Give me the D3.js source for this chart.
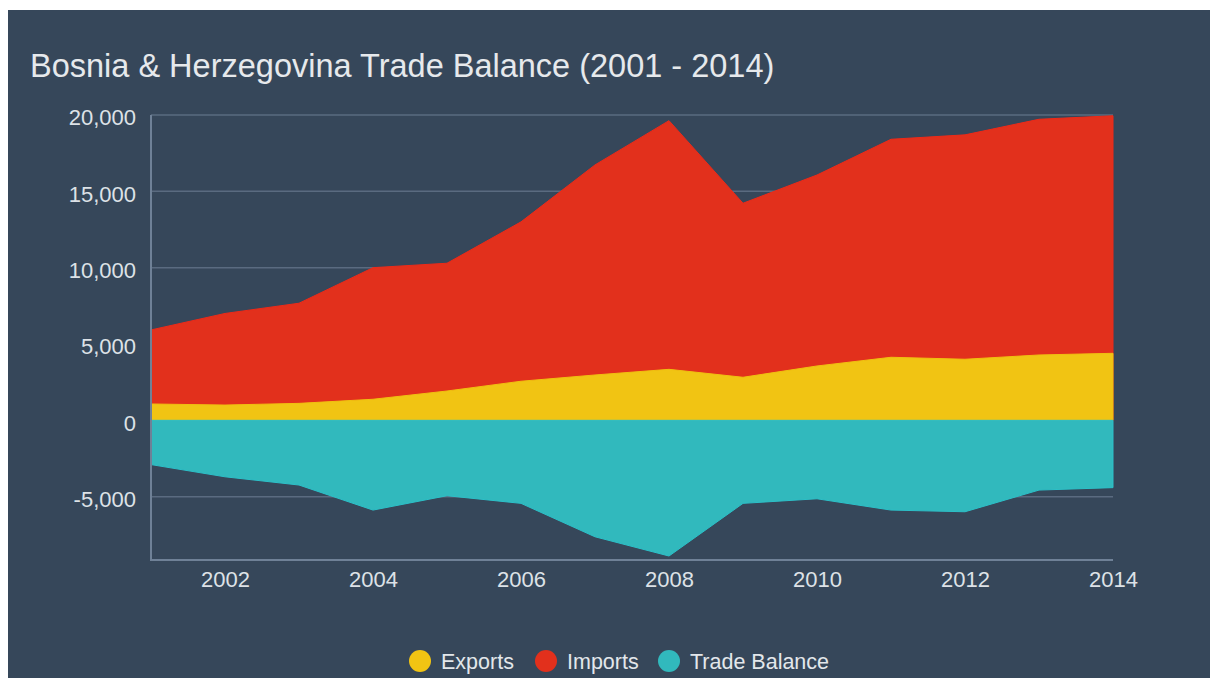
<!DOCTYPE html>
<html>
<head>
<meta charset="utf-8">
<script src="https://cdn.jsdelivr.net/npm/d3@7"></script>
<style>
  html, body { margin: 0; padding: 0; background: #ffffff; }
  svg { display: block; }
  text { font-family: "Liberation Sans", Arial, sans-serif; }
</style>
</head>
<body>
<svg id="chart" width="1210" height="678"></svg>
<script>
const years = [2001, 2002, 2003, 2004, 2005, 2006, 2007, 2008, 2009, 2010, 2011, 2012, 2013, 2014];
const imports = [5920, 7000, 7670, 10000, 10290, 13000, 16730, 19630, 14220, 16070, 18410, 18700, 19720, 19950];
const exports = [1070, 1000, 1110, 1380, 1920, 2560, 2970, 3340, 2820, 3560, 4130, 4000, 4280, 4390];
const tradeBalance = [-2900, -3700, -4240, -5880, -4940, -5440, -7630, -8890, -5440, -5140, -5880, -5990, -4570, -4410];
const yTicks = [-5000, 0, 5000, 10000, 15000, 20000];
const xTicks = [2002, 2004, 2006, 2008, 2010, 2012, 2014];
const seriesNames = ["Exports", "Imports", "Trade Balance"];
const titleText = "Bosnia & Herzegovina Trade Balance (2001 - 2014)";

const colors = { Exports: "#f1c413", Imports: "#e2301c", "Trade Balance": "#31b9bd" };
const strokes = { Exports: "#f0c010", Imports: "#ee2a18", "Trade Balance": "#2cc0c8" };
const bg = "#36475a";

const svg = d3.select("#chart");
svg.append("rect").attr("x", 8).attr("y", 10).attr("width", 1202).attr("height", 668).attr("fill", bg);

const x = d3.scaleLinear().domain([2001, 2014]).range([151, 1113]);
const y = d3.scaleLinear().domain([-9150, 20000]).range([560, 115]);

// title
svg.append("text").attr("x", 30).attr("y", 77)
  .attr("fill", "#e6e9ec").attr("font-size", 32.5).text(titleText);

// gridlines
svg.append("g").selectAll("line").data(yTicks.filter(d => d !== 0)).join("line")
  .attr("x1", 151).attr("x2", 1113)
  .attr("y1", d => y(d)).attr("y2", d => y(d))
  .attr("stroke", "#5a6b80").attr("stroke-width", 1.5);

// areas
const mk = vals => years.map((yr, i) => ({ yr, v: vals[i] }));
const area = d3.area().x(d => x(d.yr)).y0(y(0)).y1(d => y(d.v));
const data = { Imports: mk(imports), Exports: mk(exports), "Trade Balance": mk(tradeBalance) };
["Imports", "Exports", "Trade Balance"].forEach(name => {
  svg.append("path").datum(data[name]).attr("d", area)
    .attr("fill", colors[name]).attr("stroke", strokes[name]).attr("stroke-width", 1);
});

// axes
const axisColor = "#6f8197";
const fmt = d => d3.format(",")(d).replace("\u2212", "-");
const yAxis = d3.axisLeft(y).tickValues(yTicks).tickSize(0).tickPadding(15).tickFormat(fmt);
const gy = svg.append("g").attr("transform", "translate(151,0)").call(yAxis);
gy.select(".domain").remove();
gy.selectAll("text").attr("fill", "#dde2e7").attr("font-size", 22)
  .attr("font-family", "Liberation Sans, Arial, sans-serif").attr("dy", "0.45em");

const xAxis = d3.axisBottom(x).tickValues(xTicks).tickSize(0).tickPadding(9).tickFormat(d3.format("d"));
const gx = svg.append("g").attr("transform", "translate(0,560)").call(xAxis);
gx.select(".domain").remove();
gx.selectAll("text").attr("fill", "#dde2e7").attr("font-size", 22)
  .attr("font-family", "Liberation Sans, Arial, sans-serif").attr("dy", "0.82em");

svg.append("line").attr("x1", 151).attr("x2", 151).attr("y1", 115).attr("y2", 561)
  .attr("stroke", axisColor).attr("stroke-width", 2);
svg.append("line").attr("x1", 150).attr("x2", 1113).attr("y1", 560).attr("y2", 560)
  .attr("stroke", axisColor).attr("stroke-width", 2);

// legend
const legendX = [420, 546, 669];
const lg = svg.append("g");
seriesNames.forEach((name, i) => {
  lg.append("circle").attr("cx", legendX[i]).attr("cy", 661).attr("r", 11).attr("fill", colors[name]);
  lg.append("text").attr("x", legendX[i] + 21).attr("y", 669).attr("font-size", 21.5)
    .attr("fill", "#e3e7eb").text(name);
});
</script>
</body>
</html>
